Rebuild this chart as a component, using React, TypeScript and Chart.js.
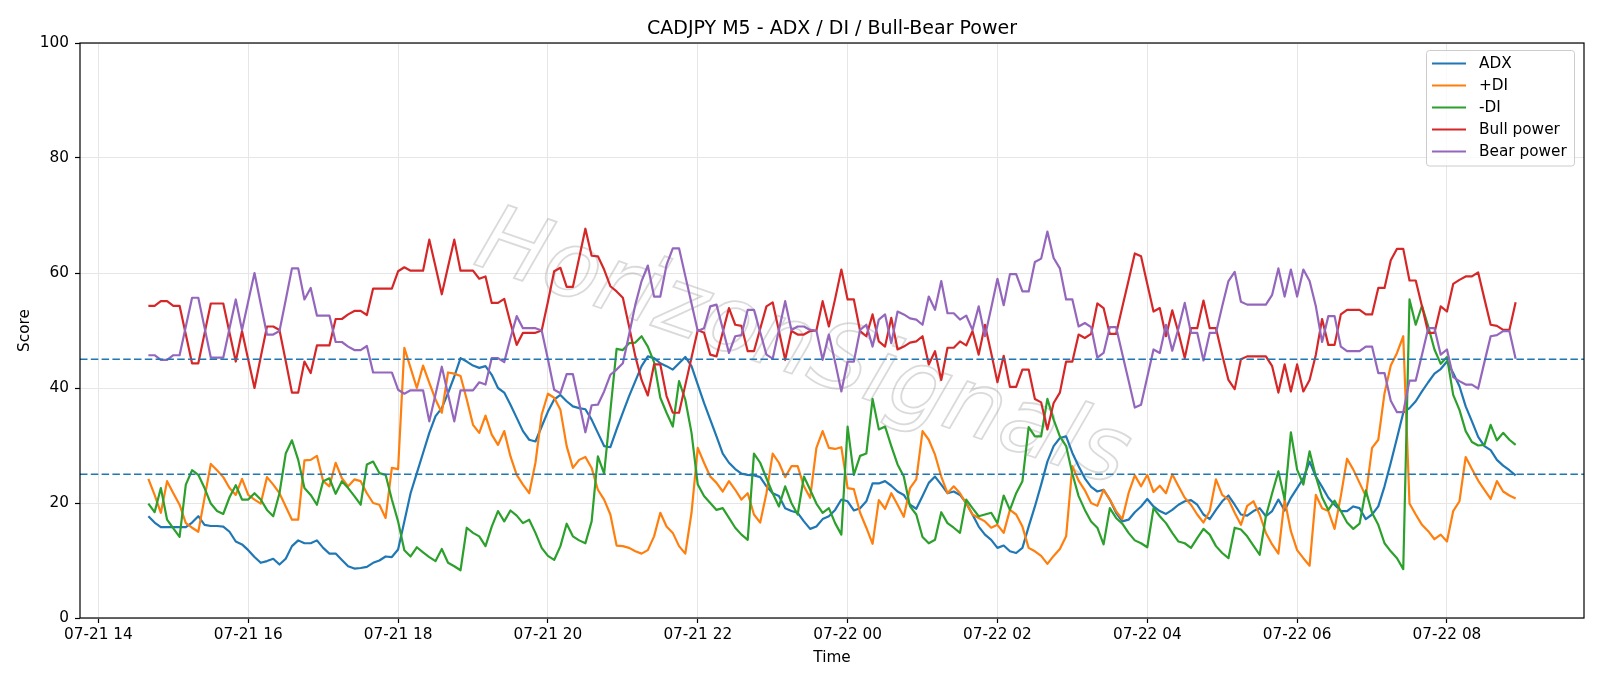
import React, { useEffect, useRef } from "react";
import { Chart, registerables } from "chart.js";

Chart.register(...registerables);

// minutes since 07-21 00:00; first sample 07-21 14:40, one sample every 5 minutes
const START_MIN = 880;
const STEP_MIN = 5;

const adx = [
  17.7, 16.6, 15.8, 15.8, 15.8, 15.8, 15.8, 16.6, 17.7, 16.2, 16.0, 16.0, 15.9, 15.0, 13.3, 12.8, 11.8, 10.6, 9.6, 9.9,
  10.3, 9.3, 10.3, 12.5, 13.5, 13.0, 13.0, 13.5,
  12.2, 11.2, 11.2, 10.1, 9.0, 8.6, 8.7, 8.9, 9.6, 10.0, 10.7, 10.6, 11.9, 16.8, 21.7, 25.2, 28.7, 32.2, 35.1, 36.5,
  39.1, 42.0, 45.2, 44.6, 43.9, 43.5, 43.8,
  42.3, 40.0, 39.2, 37.1, 34.8, 32.5, 31.0, 30.7, 33.3, 35.9, 38.0, 38.8, 37.7, 36.8, 36.5, 36.3, 34.5, 32.2, 29.9, 29.7,
  32.8, 35.7, 38.6, 41.2, 43.8, 45.5, 45.2, 44.3,
  43.8, 43.2, 44.3, 45.4, 43.8, 40.6, 37.4, 34.5, 31.6, 28.6, 27.0, 25.9, 25.1, 24.9, 24.8, 24.5, 22.9, 21.7, 21.2, 19.1,
  18.6, 18.3, 16.8, 15.5, 15.9, 17.2, 17.7,
  18.8, 20.6, 20.3, 18.7, 19.1, 20.3, 23.4, 23.4, 23.8, 23.0, 22.0, 21.4, 19.7, 19.0, 21.2, 23.5, 24.6, 23.2, 21.7, 22.0,
  21.4, 20.0, 18.0, 15.9, 14.5, 13.6, 12.2,
  12.6, 11.6, 11.3, 12.2, 15.9, 19.4, 23.2, 27.2, 29.9, 31.3, 31.6, 28.7, 26.4, 24.3, 22.8, 22.0, 22.3, 20.6, 18.3, 16.8,
  17.1, 18.4, 19.4, 20.7, 19.4, 18.6, 18.1, 18.8,
  19.7, 20.3, 20.5, 19.7, 18.0, 17.2, 18.8, 20.3, 21.3, 19.7, 18.0, 17.8, 18.6, 19.1, 17.7, 18.6, 20.6, 18.7, 20.9, 22.6,
  24.3, 27.2, 24.6, 22.8, 20.9, 19.7, 18.6,
  18.6, 19.4, 19.1, 17.2, 18.0, 19.4, 22.9, 27.0, 31.3, 35.7, 36.5, 37.7, 39.4, 41.0, 42.5, 43.3, 44.6, 42.6, 40.3, 36.8,
  34.2, 31.5, 29.9, 29.2, 27.5, 26.5, 25.7, 24.8,
];

const plusDI = [
  24.2, 21.4, 18.3, 23.8, 21.7, 19.7, 16.5, 15.7, 15.0, 20.9, 26.8, 25.7, 24.5, 22.6, 21.4, 24.2, 21.4, 20.6, 19.9, 24.5,
  23.2, 21.7, 19.4, 17.1, 17.1, 27.4, 27.5, 28.2,
  23.8, 22.9, 27.0, 24.3, 22.9, 24.1, 23.8, 21.7, 20.0, 19.7, 17.4, 26.1, 25.9, 47.0, 43.5, 40.0, 43.9, 40.9, 38.0, 35.7,
  42.7, 42.5, 42.1, 38.0, 33.6, 32.2, 35.2,
  31.9, 30.1, 32.5, 28.1, 24.9, 23.2, 21.7, 27.0, 35.4, 39.0, 38.3, 36.2, 29.9, 26.1, 27.5, 28.0, 26.1, 22.3, 20.6, 18.0,
  12.6, 12.5, 12.2, 11.6, 11.2, 11.8, 14.2, 18.3,
  15.9, 14.8, 12.5, 11.2, 18.3, 29.6, 27.0, 24.6, 23.5, 22.0, 23.8, 22.3, 20.6, 21.7, 18.0, 16.6, 21.7, 28.6, 27.0, 24.5,
  26.4, 26.4, 22.9, 20.9, 29.6, 32.5, 29.6,
  29.4, 29.7, 22.6, 22.4, 18.3, 15.7, 12.9, 20.5, 19.0, 21.7, 19.7, 17.6, 22.6, 24.1, 32.5, 31.0, 28.4, 24.6, 21.7, 22.9,
  21.7, 19.9, 18.0, 17.4, 16.8, 15.7, 16.2,
  14.8, 18.8, 18.0, 15.9, 12.2, 11.6, 10.8, 9.4, 10.8, 12.0, 14.2, 26.4, 23.9, 22.2, 20.0, 19.5, 22.3, 20.6, 18.6, 17.2,
  21.7, 24.8, 22.9, 24.9, 21.9, 23.0, 21.7, 25.0,
  22.9, 20.9, 19.7, 18.0, 16.6, 18.6, 24.1, 21.4, 20.6, 18.3, 16.2, 19.5, 20.3, 18.0, 14.8, 12.8, 11.2, 20.6, 15.1, 11.8,
  10.4, 9.1, 21.4, 19.1, 18.6, 15.5, 21.2,
  27.7, 25.8, 23.5, 21.2, 29.6, 31.0, 39.1, 43.9, 46.1, 49.0, 19.9, 18.0, 16.2, 15.1, 13.7, 14.5, 13.3, 18.6, 20.3, 28.0,
  25.9, 23.9, 22.3, 20.7, 23.8, 22.0, 21.3, 20.8,
];

const minusDI = [
  19.9, 18.4, 22.6, 17.1, 15.6, 14.1, 23.2, 25.7, 24.9, 22.6, 19.9, 18.6, 18.1, 21.0, 23.1, 20.6, 20.6, 21.7, 20.6, 18.8,
  17.7, 21.7, 28.6, 30.9, 27.5, 22.6, 21.4, 19.7,
  23.8, 24.3, 21.6, 23.8, 22.6, 21.2, 19.7, 26.7, 27.2, 25.2, 24.9, 20.6, 16.8, 11.8, 10.7, 12.3, 11.4, 10.6, 9.9, 12.0,
  9.6, 9.0, 8.3, 15.7, 14.8, 14.2, 12.5,
  15.9, 18.6, 16.8, 18.7, 17.8, 16.5, 17.1, 14.8, 12.2, 10.8, 10.1, 12.5, 16.4, 14.2, 13.5, 13.0, 16.8, 28.1, 25.1, 36.0,
  46.8, 46.6, 47.8, 47.9, 49.0, 47.2, 44.5, 38.3,
  35.7, 33.3, 41.2, 38.0, 32.2, 23.2, 21.2, 20.0, 18.8, 19.1, 17.4, 15.7, 14.5, 13.6, 28.6, 27.0, 24.3, 21.7, 19.4, 22.9,
  20.0, 18.0, 24.6, 22.3, 19.9, 18.3, 19.1,
  16.5, 14.5, 33.3, 24.9, 28.2, 28.6, 38.1, 32.8, 33.3, 29.9, 26.7, 24.6, 19.4, 18.0, 14.1, 13.0, 13.6, 18.4, 16.5, 15.7,
  14.8, 20.6, 19.1, 17.7, 18.0, 18.3, 16.5,
  21.3, 18.8, 21.7, 23.8, 33.2, 31.6, 31.6, 38.1, 34.5, 31.6, 29.9, 25.1, 21.2, 18.8, 16.8, 15.7, 12.8, 19.1, 17.4, 16.4,
  14.8, 13.5, 13.0, 12.3, 19.1, 17.7, 16.5, 14.8,
  13.3, 13.0, 12.2, 13.9, 15.5, 14.5, 12.5, 11.3, 10.4, 15.7, 15.4, 14.2, 12.6, 11.0, 17.7, 21.7, 25.5, 20.6, 32.3, 25.8,
  23.2, 29.0, 24.6, 21.0, 18.8, 20.4, 18.6,
  16.6, 15.5, 16.4, 22.2, 18.3, 16.2, 13.0, 11.6, 10.4, 8.5, 55.4, 51.0, 54.3, 50.7, 46.7, 44.2, 45.4, 38.8, 36.2, 32.5,
  30.6, 30.0, 30.1, 33.6, 30.9, 32.2, 31.0, 30.1,
];

const bullPower = [
  54.3, 54.3, 55.1, 55.1, 54.3, 54.3, 49.3, 44.3, 44.3, 49.5, 54.7, 54.7, 54.7, 49.6, 44.6, 49.9, 44.9, 40.0, 45.4, 50.7,
  50.7, 50.1, 44.7, 39.2, 39.2, 44.6, 42.6, 47.4,
  47.4, 47.4, 52.0, 52.0, 52.8, 53.4, 53.4, 52.7, 57.3, 57.3, 57.3, 57.3, 60.3, 61.0, 60.4, 60.4, 60.4, 65.8, 61.1, 56.3,
  61.1, 65.8, 60.4, 60.4, 60.4, 59.0, 59.4,
  54.8, 54.8, 55.5, 51.3, 47.5, 49.6, 49.6, 49.6, 50.0, 55.0, 60.3, 60.9, 57.6, 57.6, 62.6, 67.7, 63.0, 62.9, 60.6, 57.7,
  56.8, 55.7, 50.7, 45.5, 41.4, 38.7, 44.1, 44.1,
  38.6, 35.7, 35.7, 40.5, 45.3, 50.1, 49.6, 45.8, 45.5, 49.7, 53.9, 51.0, 50.8, 46.4, 46.4, 50.3, 54.2, 54.9, 49.9, 44.9,
  49.9, 49.3, 49.3, 49.9, 50.0, 55.1, 50.7,
  55.5, 60.6, 55.4, 55.4, 49.9, 49.0, 52.8, 48.1, 47.2, 52.2, 46.7, 47.2, 47.9, 48.1, 49.0, 44.1, 46.4, 41.4, 47.0, 47.0,
  48.1, 47.4, 49.9, 45.8, 51.0, 46.1, 41.0,
  45.6, 40.2, 40.2, 43.2, 43.2, 38.1, 37.5, 32.8, 37.4, 39.2, 44.6, 44.6, 49.3, 48.7, 49.4, 54.7, 53.9, 49.4, 49.4, 54.1,
  58.7, 63.4, 62.9, 58.1, 53.3, 53.9, 49.0, 53.5,
  49.6, 45.2, 50.4, 50.4, 55.2, 50.4, 50.4, 45.8, 41.4, 39.8, 45.0, 45.5, 45.5, 45.5, 45.5, 43.8, 39.2, 44.1, 39.4, 44.1,
  39.4, 41.4, 45.8, 52.0, 47.5, 47.5, 52.8,
  53.6, 53.6, 53.6, 52.8, 52.8, 57.4, 57.4, 62.2, 64.2, 64.2, 58.7, 58.7, 54.2, 49.6, 49.6, 54.2, 53.3, 58.1, 58.8, 59.4,
  59.4, 60.1, 55.5, 51.0, 50.8, 50.1, 50.1, 54.9,
];

const bearPower = [
  45.7, 45.7, 44.9, 44.9, 45.7, 45.7, 50.7, 55.7, 55.7, 50.5, 45.3, 45.3, 45.3, 50.4, 55.4, 50.1, 55.1, 60.0, 54.6, 49.3,
  49.3, 49.9, 55.3, 60.8, 60.8, 55.4, 57.4, 52.6,
  52.6, 52.6, 48.0, 48.0, 47.2, 46.6, 46.6, 47.3, 42.7, 42.7, 42.7, 42.7, 39.7, 39.0, 39.6, 39.6, 39.6, 34.2, 38.9, 43.7,
  38.9, 34.2, 39.6, 39.6, 39.6, 41.0, 40.6,
  45.2, 45.2, 44.5, 48.7, 52.5, 50.4, 50.4, 50.4, 50.0, 45.0, 39.7, 39.1, 42.4, 42.4, 37.4, 32.3, 37.0, 37.1, 39.4, 42.3,
  43.2, 44.3, 49.3, 54.5, 58.6, 61.3, 55.9, 55.9,
  61.4, 64.3, 64.3, 59.5, 54.7, 49.9, 50.4, 54.2, 54.5, 50.3, 46.1, 49.0, 49.2, 53.6, 53.6, 49.7, 45.8, 45.1, 50.1, 55.1,
  50.1, 50.7, 50.7, 50.1, 50.0, 44.9, 49.3,
  44.5, 39.4, 44.6, 44.6, 50.1, 51.0, 47.2, 51.9, 52.8, 47.8, 53.3, 52.8, 52.1, 51.9, 51.0, 55.9, 53.6, 58.6, 53.0, 53.0,
  51.9, 52.6, 50.1, 54.2, 49.0, 53.9, 59.0,
  54.4, 59.8, 59.8, 56.8, 56.8, 61.9, 62.5, 67.2, 62.6, 60.8, 55.4, 55.4, 50.7, 51.3, 50.6, 45.3, 46.1, 50.6, 50.6, 45.9,
  41.3, 36.6, 37.1, 41.9, 46.7, 46.1, 51.0, 46.5,
  50.4, 54.8, 49.6, 49.6, 44.8, 49.6, 49.6, 54.2, 58.6, 60.2, 55.0, 54.5, 54.5, 54.5, 54.5, 56.2, 60.8, 55.9, 60.6, 55.9,
  60.6, 58.6, 54.2, 48.0, 52.5, 52.5, 47.2,
  46.4, 46.4, 46.4, 47.2, 47.2, 42.6, 42.6, 37.8, 35.8, 35.8, 41.3, 41.3, 45.8, 50.4, 50.4, 45.8, 46.7, 41.9, 41.2, 40.6,
  40.6, 39.9, 44.5, 49.0, 49.2, 49.9, 49.9, 45.1,
];

const seriesLabels = ["ADX", "+DI", "-DI", "Bull power", "Bear power"];
const seriesColors = ["#1f77b4", "#ff7f0e", "#2ca02c", "#d62728", "#9467bd"];

const xTickValues = [840, 960, 1080, 1200, 1320, 1440, 1560, 1680, 1800, 1920];
const xTickLabels = [
  "07-21 14", "07-21 16", "07-21 18", "07-21 20", "07-21 22",
  "07-22 00", "07-22 02", "07-22 04", "07-22 06", "07-22 08",
];
const yTickValues = [0, 20, 40, 60, 80, 100];
const refLevels = [45, 25];

const TITLE = "CADJPY M5 - ADX / DI / Bull-Bear Power";
const WATERMARK = "HorizonSignals";
const FONT = "'DejaVu Sans', sans-serif";
const TXT = 15.3;

// 5% margins around the sampled time span (880 .. 1975 minutes)
const X_MIN = 825.25;
const X_MAX = 2029.75;

const decorPlugin = {
  id: "decor",
  beforeDatasetsDraw(chart: any) {
    const { ctx, chartArea } = chart;
    const cx = 802;
    const cy = 352;
    ctx.save();
    ctx.beginPath();
    ctx.rect(chartArea.left, chartArea.top, chartArea.right - chartArea.left, chartArea.bottom - chartArea.top);
    ctx.clip();
    ctx.translate(cx, cy);
    ctx.rotate((19 * Math.PI) / 180);
    ctx.font = `italic 92px ${FONT}`;
    ctx.textAlign = "center";
    ctx.textBaseline = "middle";
    ctx.strokeStyle = "rgba(150,150,150,0.35)";
    ctx.lineWidth = 1.8;
    ctx.strokeText(WATERMARK, 0, 0);
    ctx.restore();
  },
  afterDatasetsDraw(chart: any) {
    const { ctx, chartArea, scales } = chart;
    const yS = scales.y;
    ctx.save();
    // reference levels
    ctx.strokeStyle = "#1f77b4";
    ctx.lineWidth = 1.6;
    ctx.setLineDash([7.5, 3.3]);
    refLevels.forEach((lv) => {
      const py = yS.getPixelForValue(lv);
      ctx.beginPath();
      ctx.moveTo(chartArea.left, py);
      ctx.lineTo(chartArea.right, py);
      ctx.stroke();
    });
    ctx.setLineDash([]);
    // axes frame
    ctx.strokeStyle = "#000";
    ctx.lineWidth = 1.2;
    ctx.strokeRect(chartArea.left, chartArea.top, chartArea.right - chartArea.left, chartArea.bottom - chartArea.top);
    // legend
    const bx = 1426.5, by = 50.5, bw = 148, bh = 115.5, r = 3;
    ctx.beginPath();
    ctx.moveTo(bx + r, by);
    ctx.lineTo(bx + bw - r, by);
    ctx.arcTo(bx + bw, by, bx + bw, by + r, r);
    ctx.lineTo(bx + bw, by + bh - r);
    ctx.arcTo(bx + bw, by + bh, bx + bw - r, by + bh, r);
    ctx.lineTo(bx + r, by + bh);
    ctx.arcTo(bx, by + bh, bx, by + bh - r, r);
    ctx.lineTo(bx, by + r);
    ctx.arcTo(bx, by, bx + r, by, r);
    ctx.closePath();
    ctx.fillStyle = "rgba(255,255,255,0.8)";
    ctx.fill();
    ctx.strokeStyle = "#cccccc";
    ctx.lineWidth = 1;
    ctx.stroke();
    ctx.font = `${TXT}px ${FONT}`;
    ctx.textBaseline = "middle";
    ctx.textAlign = "left";
    chart.data.datasets.forEach((ds: any, i: number) => {
      const ry = 63.5 + i * 22;
      ctx.strokeStyle = ds.borderColor;
      ctx.lineWidth = 2.2;
      ctx.beginPath();
      ctx.moveTo(1432, ry);
      ctx.lineTo(1466, ry);
      ctx.stroke();
      ctx.fillStyle = "#000";
      ctx.fillText(ds.label, 1479, ry + 1);
    });
    ctx.restore();
  },
  afterDraw(chart: any) {
    const { ctx, chartArea } = chart;
    const cx = (chartArea.left + chartArea.right) / 2;
    ctx.save();
    ctx.fillStyle = "#000";
    ctx.textAlign = "center";
    ctx.textBaseline = "alphabetic";
    ctx.font = `19px ${FONT}`;
    ctx.fillText(TITLE, cx, chartArea.top - 9.5);
    ctx.font = `${TXT}px ${FONT}`;
    ctx.textBaseline = "top";
    ctx.fillText("Time", cx, 650);
    ctx.translate(25.5, (chartArea.top + chartArea.bottom) / 2);
    ctx.rotate(-Math.PI / 2);
    ctx.textBaseline = "middle";
    ctx.fillText("Score", 0, 0);
    ctx.restore();
  },
};

export default function App() {
  const canvasRef = useRef<HTMLCanvasElement | null>(null);

  useEffect(() => {
    const canvas = canvasRef.current;
    if (!canvas) return;
    const times = adx.map((_, i) => START_MIN + STEP_MIN * i);
    const toXY = (vals: number[]) => vals.map((v, i) => ({ x: times[i], y: v }));
    const seriesValues = [adx, plusDI, minusDI, bullPower, bearPower];

    const chart = new Chart(canvas, {
      type: "line",
      data: {
        datasets: seriesValues.map((vals, i) => ({
          label: seriesLabels[i],
          data: toXY(vals),
          borderColor: seriesColors[i],
          backgroundColor: seriesColors[i],
          borderWidth: 2.2,
          pointRadius: 0,
          tension: 0,
          fill: false,
          borderJoinStyle: "round" as const,
          order: seriesValues.length - i,
        })),
      },
      options: {
        responsive: false,
        animation: false,
        events: [],
        layout: { padding: { left: 0, right: 16, top: 43, bottom: 0 } },
        plugins: {
          legend: { display: false },
          title: { display: false },
          tooltip: { enabled: false },
        },
        scales: {
          x: {
            type: "linear",
            min: X_MIN,
            max: X_MAX,
            afterBuildTicks: (s: any) => {
              s.ticks = xTickValues.map((v) => ({ value: v }));
            },
            afterFit: (s: any) => {
              s.height = 68;
            },
            border: { display: false },
            grid: {
              color: "#e6e6e6",
              lineWidth: 1,
              tickLength: 5,
              tickColor: "#000",
              tickWidth: 1.2,
            },
            ticks: {
              autoSkip: false,
              maxRotation: 0,
              padding: 3,
              color: "#000",
              font: { family: FONT, size: TXT },
              callback: (v: any) => {
                const k = xTickValues.indexOf(Number(v));
                return k >= 0 ? xTickLabels[k] : "";
              },
            },
          },
          y: {
            type: "linear",
            min: 0,
            max: 100,
            afterBuildTicks: (s: any) => {
              s.ticks = yTickValues.map((v) => ({ value: v }));
            },
            afterFit: (s: any) => {
              s.width = 80;
            },
            border: { display: false },
            grid: {
              color: "#e6e6e6",
              lineWidth: 1,
              tickLength: 5,
              tickColor: "#000",
              tickWidth: 1.2,
            },
            ticks: {
              padding: 6,
              color: "#000",
              font: { family: FONT, size: TXT },
              callback: (v: any) => String(v),
            },
          },
        },
      },
      plugins: [decorPlugin],
    });
    return () => chart.destroy();
  }, []);

  return (
    <div style={{ position: "fixed", left: 0, top: 0, width: 1600, height: 686, background: "#fff" }}>
      <canvas ref={canvasRef} width={1600} height={686} style={{ width: 1600, height: 686, display: "block" }} />
    </div>
  );
}
